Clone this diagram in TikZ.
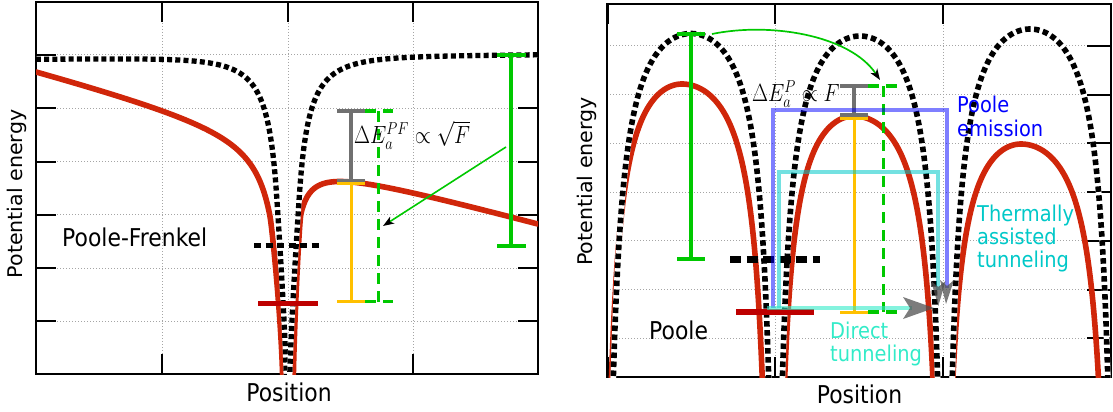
\documentclass[tikz,border=0pt]{standalone}
\usepackage[no-math]{fontspec}
\newfontfamily\dvs{DejaVu Sans}
\usetikzlibrary{arrows.meta}
\definecolor{redc}{RGB}{208,38,10}
\definecolor{barred}{RGB}{190,0,0}
\definecolor{grn}{RGB}{0,200,0}
\definecolor{yel}{RGB}{255,192,0}
\definecolor{gry}{RGB}{112,112,112}
\definecolor{tealc}{RGB}{0,200,200}
\definecolor{aquac}{RGB}{50,235,200}
\definecolor{gridc}{RGB}{165,165,165}
\definecolor{bluec}{RGB}{0,0,255}
\definecolor{headc}{RGB}{80,80,80}
\newcommand\vst[1]{\scalebox{1}[1.12]{#1}}
\newcommand\vsm[1]{\scalebox{1}[1.2]{#1}}
\begin{document}
\begin{tikzpicture}[x=1pt,y=-1pt,
  every node/.style={inner sep=0pt},
  gridl/.style={draw=gridc, line width=0.8pt, dash pattern=on 1.3pt off 1.7pt},
  framel/.style={draw=black, line width=1.5pt},
  tickl/.style={draw=black, line width=2pt},
  redcurve/.style={draw=redc, line width=5.6pt, line join=round, line cap=round},
  blkdot/.style={draw=black, line width=5.3pt, dash pattern=on 5pt off 3.2pt,
     preaction={draw=white, line width=5.3pt, solid}},
  trapl/.style={draw=black, line width=5.5pt, dash pattern=on 7pt off 4.5pt},
  trapr/.style={draw=black, line width=6.5pt, dash pattern=on 11pt off 5.5pt},
  barr/.style={draw=barred, line width=5.5pt},
  ibgray/.style={draw=gry, line width=3.5pt},
  ibyel/.style={draw=yel, line width=3pt},
  ibgrn/.style={draw=grn, line width=3.5pt},
  ibdash/.style={draw=grn, line width=3.5pt, dash pattern=on 11pt off 7pt},
  thinarrow/.style={draw=grn, line width=1.6pt, -{Stealth[length=11pt,width=8pt,inset=3pt,color=black]}},
  boxblue/.style={draw=bluec, draw opacity=0.5, line width=4pt},
  boxteal/.style={draw=tealc, draw opacity=0.55, line width=4pt},
  boxaqua/.style={draw=aquac, draw opacity=0.6, line width=4pt},
  head/.style={fill=headc, fill opacity=0.75},
  axlab/.style={font=\dvs\fontsize{21.9}{26}\selectfont},
  ylab/.style={font=\dvs\fontsize{20.6}{24}\selectfont},
  tlab/.style={font=\dvs\fontsize{19.4}{23}\selectfont},
  mth/.style={font=\fontsize{20}{24}\selectfont}
]
\useasboundingbox (0,0) rectangle (1113,412);

% ================= left panel =================
\foreach \yy in {54.9,108.2,161.5,214.8,268.1,321.4}
  \draw[gridl] (36,\yy) -- (538,\yy);
\foreach \xx in {162,288,413}
  \draw[gridl] (\xx,2) -- (\xx,374);
\foreach \yy in {54.9,108.2,161.5,214.8,268.1,321.4}{
  \draw[tickl] (36,\yy) -- (56,\yy);
  \draw[tickl] (518,\yy) -- (538,\yy);}
\foreach \xx in {162,288,413}{
  \draw[tickl] (\xx,2) -- (\xx,22);
  \draw[tickl] (\xx,354) -- (\xx,374);}
\draw[framel] (36,2) rectangle (538,374);

\begin{scope}
\clip (36,2) rectangle (538,374);
% red curve (Poole-Frenkel, with field)
\draw[redcurve] plot[domain=1:0, samples=90, variable=\t]
  ({288-18*exp(2.639*\t)}, {130.5-4.644*exp(2.639*\t)+90.61/exp(2.639*\t)})
  .. controls (272,227) and (281.5,320) .. (282.7,380);
\draw[redcurve] plot[domain=1:0, samples=90, variable=\t]
  ({288+13*exp(2.956*\t)}, {153.2+3.531*exp(2.956*\t)+56.69/exp(2.956*\t)})
  .. controls (299,221.6) and (294,330) .. (293.3,380);
% black dotted curve (no field)
\draw[blkdot] plot[domain=1:0, samples=90, variable=\t]
  ({288-12*exp(3.045*\t)}, {57+0.108*exp(3.045*\t)+164.75*exp(-0.24*exp(3.045*\t))/exp(3.045*\t)})
  .. controls (277.5,206.8) and (285.5,330) .. (286.3,380);
\draw[blkdot] plot[domain=1:0, samples=90, variable=\t]
  ({288+12*exp(3.036*\t)}, {57-0.108*exp(3.036*\t)+164.75*exp(-0.24*exp(3.036*\t))/exp(3.036*\t)})
  .. controls (298.5,206.6) and (290.5,330) .. (289.7,380);
\end{scope}

% trap levels
\draw[trapl] (254,245.5) -- (319.5,245.5);
\draw[barr] (258,303.3) -- (317.5,303.3);
% barriers
\draw[ibdash] (365,111) -- (393,111);
\draw[ibdash] (378.5,111) -- (378.5,301.5);
\draw[ibdash] (365,301.5) -- (393,301.5);
\draw[ibyel] (351,183.5) -- (351,301.5);
\draw[ibyel] (337,183.5) -- (365,183.5);
\draw[ibyel] (337,301.5) -- (365,301.5);
\draw[ibgray] (351,111) -- (351,180.5);
\draw[ibgray] (337,111) -- (365,111);
\draw[ibgray] (337,180.5) -- (365,180.5);
\draw[ibgrn] (511,55) -- (511,246);
\draw[ibgrn] (497,55) -- (526,55);
\draw[ibgrn] (497,246) -- (526,246);
\coordinate (la1) at (506,147);
\coordinate (la2) at (383,226);
\draw[thinarrow] (la1) -- (la2);

\node[mth, anchor=base west] (dEL) at (354,143.3) {\vsm{$\Delta E_a^{PF}\propto\sqrt{F}$}};
\node[axlab, anchor=base west] (pf) at (62,246) {\vst{Poole-Frenkel}};
\node[axlab, anchor=base] (posL) at (289,401.7) {\vst{Position}};
\node[ylab, rotate=90, anchor=base] (peL) at (22,194) {\scalebox{1}[0.98]{Potential energy}};

% ================= right panel =================
\foreach \yy in {45.7,94.5,143.3,192,240.8,289.5,338.3}
  \draw[gridl] (607,\yy) -- (1111,\yy);
\foreach \xx in {775,943}
  \draw[gridl] (\xx,4) -- (\xx,377);
\foreach \yy in {45.7,94.5,143.3,192,240.8,289.5,338.3}
  \draw[tickl] (1087,\yy) -- (1111,\yy);
\foreach \xx in {775,943}{
  \draw[tickl] (\xx,4) -- (\xx,24);
  \draw[tickl] (\xx,357) -- (\xx,377);}
\draw[tickl, line width=3pt] (607,4) -- (607,24);
\draw[tickl, line width=3pt] (607,357) -- (607,377);
\draw[framel] (607,4) rectangle (1111,377);

\begin{scope}
\clip (607,4) rectangle (1111,377);
\foreach \m/\c in {682/84, 854/116, 1021/144}{
  \pgfmathsetmacro\r{(385-\c)/118}
  \pgfmathsetmacro\hl{83.5*sqrt(\r/(1+\r))}
  \pgfmathsetmacro\hr{95*sqrt(\r/(1+\r))}
  \draw[redcurve] plot[domain=-90:0, samples=70, variable=\t]
    ({\m+\hl*sin(\t)}, {\c+118*(\hl*\hl*sin(\t)*sin(\t)/(6972.25-\hl*\hl*sin(\t)*sin(\t)))})
    -- plot[domain=0:90, samples=70, variable=\t]
    ({\m+\hr*sin(\t)}, {\c+118*(\hr*\hr*sin(\t)*sin(\t)/(9025-\hr*\hr*sin(\t)*sin(\t)))});
}
\foreach \m/\c in {691/33.5, 860/36, 1030/29}{
  \pgfmathsetmacro\r{(385-\c)/118}
  \pgfmathsetmacro\hb{90*sqrt(\r/(1+\r))}
  \draw[blkdot, line width=5.6pt, dash pattern=on 5.5pt off 3.5pt,
        preaction={draw=white, line width=5.6pt, solid}]
    plot[domain=-90:90, samples=140, variable=\t]
    ({\m+\hb*sin(\t)}, {\c+118*(\hb*\hb*sin(\t)*sin(\t)/(8100-\hb*\hb*sin(\t)*sin(\t)))});
}
\end{scope}

% trap levels
\draw[trapr] (730,259.3) -- (820,259.3);
\draw[barr] (736,312) -- (814,312);
% barriers
\draw[ibgrn] (691,34) -- (691,259);
\draw[ibgrn] (677,34) -- (705,34);
\draw[ibgrn] (677,259) -- (705,259);
\draw[ibdash] (868,86) -- (899,86);
\draw[ibdash] (883.5,86) -- (883.5,312);
\draw[ibdash] (868,312) -- (899,312);
\draw[ibyel] (854,118) -- (854,312);
\draw[ibyel] (840,118) -- (868,118);
\draw[ibyel] (840,312) -- (868,312);
\draw[ibgray] (854,86) -- (854,115);
\draw[ibgray] (840,86) -- (868,86);
\draw[ibgray] (840,115) -- (868,115);
\coordinate (ra1) at (712,34);
\coordinate (ra2) at (880,80);
\draw[thinarrow, line width=1.7pt] (ra1) .. controls (770,22) and (850,35) .. (ra2);

% transport paths
\draw[boxblue] (772.5,308) -- (772.5,110) -- (947,110) -- (947,288);
\draw[boxteal] (778.5,308) -- (778.5,172) -- (938.3,172) -- (938.3,290);
\draw[boxaqua] (767,308) -- (912,308);
\fill[head] (934,308) -- (903,297) -- (910,308) -- (903,319) -- cycle;
\fill[head] (938.3,306) -- (931,281) -- (938.3,287) -- (945.6,281) -- cycle;
\fill[head] (946,304) -- (940,280) -- (947,286) -- (954,280) -- cycle;

\node[mth, anchor=base west] (dER) at (752,101.7) {\vsm{$\Delta E_a^{P}\propto F$}};
\node[tlab, anchor=base west, text=bluec] (pe1) at (957,112.7) {\vst{Poole}};
\node[tlab, anchor=base west, text=bluec] (pe2) at (957,136.7) {\vst{emission}};
\node[tlab, anchor=base west, text=tealc] (ta1) at (977,221) {\vst{Thermally}};
\node[tlab, anchor=base west, text=tealc] (ta2) at (977,244.3) {\vst{assisted}};
\node[tlab, anchor=base west, text=tealc] (ta3) at (977,267.6) {\vst{tunneling}};
\node[tlab, anchor=base west, text=aquac] (dt1) at (830,338.3) {\vst{Direct}};
\node[tlab, anchor=base west, text=aquac] (dt2) at (830,361.7) {\vst{tunneling}};
\node[axlab, anchor=base west] (pl) at (649,339.3) {\vst{Poole}};
\node[axlab, anchor=base] (posR) at (859.5,403.3) {\vst{Position}};
\node[ylab, rotate=90, anchor=base] (peR) at (592.5,181.5) {\scalebox{1}[0.98]{Potential energy}};
\end{tikzpicture}
\end{document}
